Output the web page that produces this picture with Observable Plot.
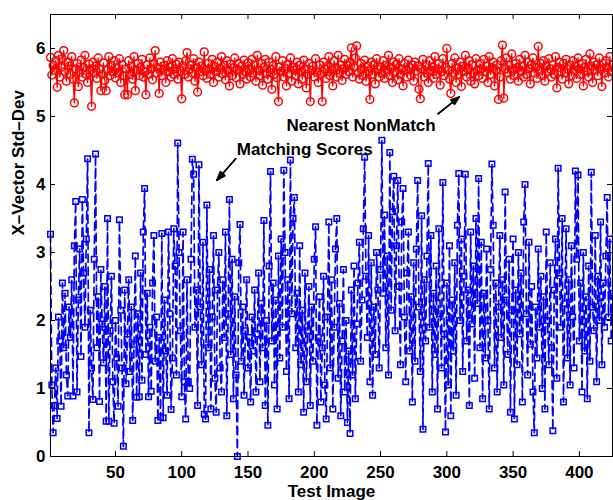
<!DOCTYPE html>
<html>
<head>
<meta charset="utf-8">
<script src="https://cdn.jsdelivr.net/npm/d3@7"></script>
<script src="https://cdn.jsdelivr.net/npm/@observablehq/plot@0.6"></script>
<style>
  html, body { margin: 0; padding: 0; background: #fff; }
</style>
</head>
<body>
<div id="chart"></div>
<script>
const xTicks = [50, 100, 150, 200, 250, 300, 350, 400];
const yTicks = [0, 1, 2, 3, 4, 5, 6];
const xLabel = "Test Image";
const yLabel = "X–Vector Std–Dev";
const nonMatchLabel = "Nearest NonMatch";
const matchLabel = "Matching Scores";

// Matching Scores (blue squares, dashed line), test images 1..425
const matchingScores = [
  3.27,1.05,0.35,0.75,1.30,0.56,2.05,1.70,0.74,2.55,1.60,2.40,1.20,0.89,2.20,1.75,2.60,0.89,3.10,3.75,0.95,2.30,3.05,1.47,3.78,
  2.70,1.90,3.20,4.38,0.35,2.15,1.30,0.84,2.90,4.45,1.60,2.35,0.81,2.75,1.95,1.38,2.50,0.52,3.50,0.52,1.85,2.65,1.10,0.49,2.00,
  1.45,0.74,3.48,2.15,1.30,0.15,2.45,1.07,1.80,2.60,1.25,2.20,0.53,1.65,2.95,0.87,2.10,0.88,2.70,1.12,3.30,3.94,1.50,2.40,0.88,
  1.90,0.96,2.55,3.25,1.40,2.05,0.53,1.75,0.58,3.28,0.57,2.30,1.55,0.90,3.30,2.10,0.69,1.45,3.35,2.80,1.20,4.61,3.00,1.85,0.88,
  3.30,1.10,0.55,2.60,1.10,1.00,2.90,4.37,4.15,1.90,2.45,0.75,4.29,2.20,1.35,3.15,0.62,0.55,3.70,1.60,2.75,0.70,2.05,3.25,1.15,
  0.65,2.45,3.00,1.30,0.95,2.60,1.75,3.30,0.60,2.10,3.78,1.50,2.90,0.85,2.35,1.20,0.00,2.85,3.41,1.40,2.20,0.90,1.85,2.60,1.30,
  1.75,0.80,2.05,1.55,2.45,0.95,1.80,2.70,1.10,2.25,1.60,3.47,0.75,2.00,0.46,2.80,4.19,1.70,2.55,1.05,2.30,0.70,2.95,1.45,3.20,
  1.90,4.21,3.00,1.25,2.60,0.85,4.36,2.10,3.50,3.81,1.60,2.40,0.95,3.10,1.35,2.15,0.65,2.70,1.10,1.85,2.50,0.75,2.20,1.40,2.90,
  3.38,0.46,1.75,2.35,0.80,1.60,2.65,1.05,0.55,2.05,3.45,1.30,2.60,0.70,1.90,3.05,3.50,1.15,2.25,0.60,1.70,2.75,0.95,2.00,0.50,
  1.55,0.34,2.45,1.20,2.80,0.85,1.95,2.55,3.15,1.40,2.30,3.35,4.40,2.65,1.75,3.25,1.10,2.85,0.90,2.20,1.50,3.00,2.45,1.30,2.75,
  4.65,2.40,3.55,1.60,2.95,1.20,4.47,2.15,3.60,4.12,1.85,3.10,4.06,2.50,1.35,3.45,3.94,2.05,1.10,2.70,3.30,1.55,2.35,0.80,2.85,
  1.40,3.05,4.06,2.20,1.25,3.54,0.40,2.60,1.70,2.95,4.31,1.90,3.25,0.95,2.40,1.50,2.80,0.70,3.35,2.10,1.30,4.03,1.80,0.36,2.55,
  1.05,3.10,0.60,2.30,1.55,2.85,0.90,3.40,4.16,2.00,3.20,1.25,2.65,4.15,1.70,2.45,0.75,3.30,1.95,2.80,1.15,3.50,2.25,4.09,1.60,
  3.15,0.85,2.40,1.45,3.05,2.00,0.70,2.75,4.30,3.40,1.30,2.55,0.95,2.20,3.25,1.75,2.60,1.05,3.89,2.30,1.50,2.90,0.65,2.15,3.20,
  0.55,2.45,1.35,3.00,1.80,2.70,0.80,3.45,4.00,2.10,1.20,3.15,1.65,2.50,0.95,0.35,2.20,1.45,3.05,1.90,2.65,1.00,2.35,0.70,3.30,
  2.00,1.35,2.85,1.60,0.38,2.45,3.20,1.15,4.24,2.70,1.90,3.50,0.80,2.25,3.35,1.45,2.60,1.05,3.10,2.05,1.30,4.20,2.90,4.14,1.70,
  2.55,0.95,3.00,1.55,2.35,0.85,2.80,1.40,4.18,2.20,1.85,3.25,1.10,2.65,2.00,3.45,1.35,2.55,1.90,2.95,3.81,2.05,3.20,1.70,2.40
];

// Nearest NonMatch (red circles, solid line), test images 1..425
const nearestNonMatch = [
  5.87,5.61,5.75,5.68,5.82,5.43,5.90,5.58,5.72,5.85,5.97,5.66,5.52,5.80,5.74,5.62,5.88,5.55,5.20,5.70,5.78,5.44,5.65,5.83,5.58,
  5.72,5.90,5.62,5.50,5.77,5.68,5.15,5.80,5.64,5.74,5.56,5.86,5.70,5.38,5.62,5.79,5.53,5.38,5.68,5.88,5.60,5.75,5.66,5.82,5.57,
  5.71,5.64,5.85,5.50,5.76,5.60,5.32,5.70,5.32,5.82,5.62,5.74,5.55,5.88,5.38,5.68,5.78,5.60,5.72,5.84,5.58,5.66,5.32,5.76,5.62,
  5.86,5.70,5.54,5.78,5.97,5.64,5.72,5.34,5.80,5.60,5.68,5.75,5.50,5.82,5.66,5.73,5.58,5.85,5.62,5.70,5.77,5.55,5.80,5.67,5.26,
  5.74,5.62,5.82,5.94,5.58,5.70,5.76,5.64,5.85,5.52,5.72,5.36,5.80,5.66,5.74,5.60,5.95,5.68,5.56,5.78,5.70,5.62,5.84,5.50,5.73,
  5.66,5.80,5.58,5.71,5.88,5.63,5.75,5.54,5.82,5.68,5.45,5.77,5.60,5.72,5.86,5.57,5.69,5.78,5.48,5.74,5.62,5.83,5.66,5.55,5.79,
  5.70,5.58,5.84,5.64,5.76,5.52,5.90,5.68,5.60,5.78,5.46,5.72,5.84,5.63,5.55,5.80,5.69,5.40,5.75,5.62,5.88,5.57,5.22,5.73,5.66,
  5.82,5.58,5.70,5.45,5.77,5.64,5.86,5.52,5.73,5.68,5.60,5.80,5.48,5.75,5.66,5.55,5.83,5.70,5.42,5.62,5.78,5.22,5.68,5.74,5.58,
  5.85,5.65,5.50,5.76,5.62,5.22,5.80,5.70,5.56,5.74,5.88,5.60,5.68,5.45,5.82,5.72,5.58,5.90,5.64,5.76,5.53,5.70,5.84,5.62,5.75,
  5.66,5.80,6.01,5.58,5.72,5.86,6.04,5.64,5.55,5.78,5.70,5.60,5.83,5.52,5.74,5.67,5.25,5.80,5.62,5.76,5.48,5.85,5.70,5.58,5.73,
  5.64,5.82,5.56,5.75,5.68,5.90,5.60,5.72,5.50,5.80,5.66,5.77,5.54,5.85,5.62,5.70,5.45,5.78,5.68,5.58,5.83,5.72,5.60,5.76,5.52,
  5.80,5.67,5.74,5.40,5.26,5.70,5.84,5.58,5.76,5.64,5.50,5.82,5.68,5.73,5.56,5.88,5.62,5.70,5.78,5.46,5.66,5.85,5.60,5.72,6.00,
  5.68,5.55,5.34,5.78,5.64,5.86,5.50,5.72,5.62,5.80,5.44,5.74,5.66,5.90,5.58,5.70,5.82,5.52,5.76,5.64,5.48,5.85,5.68,5.60,5.78,
  5.70,5.56,5.84,5.66,5.74,5.50,5.88,5.62,5.72,5.80,5.45,5.68,5.76,5.25,5.58,5.82,6.05,5.27,5.70,5.86,5.64,5.75,5.55,5.92,5.68,
  5.60,5.78,5.72,5.52,5.84,5.66,5.74,5.58,5.90,5.62,5.80,5.70,5.48,5.76,5.86,5.64,5.72,5.56,6.03,5.68,5.78,5.60,5.82,5.52,5.74,
  5.66,5.85,5.70,5.58,5.76,5.62,5.88,5.42,5.72,5.80,5.66,5.55,5.78,5.64,5.84,5.70,5.48,5.75,5.60,5.82,5.68,5.74,5.56,5.86,5.70,
  5.62,5.78,5.45,5.72,5.84,5.66,5.58,5.92,5.74,5.50,5.80,5.68,5.76,5.60,5.86,5.70,5.44,5.78,5.64,5.82,5.72,5.58,5.88,5.66,5.76
];

// Annotation anchors (data coordinates)
const annotations = [
  {label: nonMatchLabel, x: 179, y: 4.87},
  {label: matchLabel, x: 141.5, y: 4.52}
];
const arrows = [
  {x1: 293.5, y1: 5.04, x2: 309.5, y2: 5.29},
  {x1: 140.8, y1: 4.38, x2: 126.4, y2: 4.06}
];

const blue = matchingScores.map((v, i) => ({x: i + 1, y: v}));
const red = nearestNonMatch.map((v, i) => ({x: i + 1, y: v}));

const xDomain = [1, 425];
const yDomain = [0, 6.5];
const W = 613, H = 500, mL = 50, mR = 1, mT = 14, mB = 44;
const tickPx = 5;
const tX = tickPx * (xDomain[1] - xDomain[0]) / (W - mL - mR);
const tY = tickPx * (yDomain[1] - yDomain[0]) / (H - mT - mB);

const blueC = "#0000ff";
const redC = "#ff0000";

const headAngles = [10, 20, 30, 40];

const chart = Plot.plot({
  width: W, height: H,
  marginLeft: mL, marginRight: mR, marginTop: mT, marginBottom: mB,
  style: {fontFamily: "'Liberation Sans', Arial, Helvetica, sans-serif", fontSize: "17px", fontWeight: "bold", background: "#fff", color: "#000", overflow: "visible"},
  x: {domain: xDomain},
  y: {domain: yDomain},
  marks: [
    Plot.line(blue, {x: "x", y: "y", stroke: blueC, strokeWidth: 1.7, strokeDasharray: "8,5"}),
    Plot.dot(blue, {x: "x", y: "y", symbol: "square", r: 3.1, stroke: blueC, strokeWidth: 1.5, fill: "none"}),
    Plot.line(red, {x: "x", y: "y", stroke: redC, strokeWidth: 1.3}),
    Plot.dot(red, {x: "x", y: "y", r: 3.9, stroke: redC, strokeWidth: 1.5, fill: "none"}),
    Plot.frame({stroke: "#000", strokeWidth: 1}),
    Plot.ruleX(xTicks, {x: d => d, y1: yDomain[0], y2: yDomain[0] + tY, stroke: "#000"}),
    Plot.ruleX(xTicks, {x: d => d, y1: yDomain[1] - tY, y2: yDomain[1], stroke: "#000"}),
    Plot.ruleY(yTicks, {y: d => d, x1: xDomain[0], x2: xDomain[0] + tX, stroke: "#000"}),
    Plot.ruleY(yTicks, {y: d => d, x1: xDomain[1] - tX, x2: xDomain[1], stroke: "#000"}),
    Plot.axisX({ticks: xTicks, tickFormat: d => String(d), tickSize: 0, tickPadding: 9, label: null, fontSize: 17, fontWeight: "bold"}),
    Plot.axisY({ticks: yTicks, tickFormat: d => String(d), tickSize: 0, tickPadding: 5, label: null, fontSize: 17, fontWeight: "bold"}),
    Plot.text([yLabel], {text: d => d, frameAnchor: "left", dx: -32, rotate: -90, fontSize: 17, fontWeight: "bold", fill: "#000"}),
    Plot.text([xLabel], {text: d => d, frameAnchor: "bottom", dy: 40, fontSize: 17, fontWeight: "bold", fill: "#000"}),
    Plot.text(annotations, {x: "x", y: "y", text: "label", textAnchor: "start", fontSize: 17, fontWeight: "bold", fill: "#000"}),
    ...headAngles.map(a => Plot.arrow(arrows, {x1: "x1", y1: "y1", x2: "x2", y2: "y2", stroke: "#000", strokeWidth: 1.3, headLength: 11, headAngle: a}))
  ]
});
document.getElementById("chart").appendChild(chart);
</script>
</body>
</html>
